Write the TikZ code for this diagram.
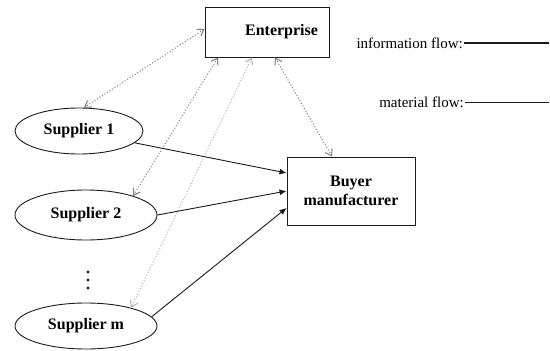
\documentclass[tikz,border=0pt]{standalone}
\usepackage{fontspec}
\setmainfont{Liberation Serif}
\usetikzlibrary{arrows.meta,positioning,shapes.geometric}
\definecolor{InfoGray}{HTML}{7A7A7A}
\definecolor{LineBlack}{HTML}{1A1A1A}
\tikzset{
  firmbox/.style={draw=LineBlack,line width=0.9pt,fill=white,
              font=\fontsize{16}{19}\selectfont\bfseries},
  supplier/.style={ellipse,draw=LineBlack,line width=0.9pt,inner sep=0pt,
              font=\fontsize{16}{19}\selectfont\bfseries},
  infoflow/.style={{Straight Barb[length=6pt,width=8pt]}-{Straight Barb[length=6pt,width=8pt]},
              dotted,line width=1pt,draw=InfoGray},
  matflow/.style={-{Latex[length=7pt,width=6pt]},line width=0.9pt,draw=LineBlack},
  legend/.style={font=\fontsize{15}{17}\selectfont,inner sep=1pt}
}
\begin{document}
\begin{tikzpicture}[x=1pt,y=-1pt]
  \useasboundingbox (0,0) rectangle (550,351);

  \node[firmbox,minimum width=124pt,minimum height=50pt,text width=102pt,
        align=right,inner xsep=10pt] (ent) at (267,32) {Enterprise};
  \node[firmbox,minimum width=128pt,minimum height=68pt,align=center] (buy) at (351,191)
        {Buyer\\manufacturer};

  \node[supplier,minimum width=128pt,minimum height=46pt] (sup1) at (79,131) {Supplier 1};
  \node[supplier,minimum width=142pt,minimum height=50pt] (sup2) at (86,215) {Supplier 2};
  \node[supplier,minimum width=142pt,minimum height=46pt] (supm) at (86,326) {Supplier m};
  % the suppliers in between
  \foreach \y in {272,280,288}
    \fill[LineBlack] (88,\y) circle (1.7pt);

  % legend
  \node[legend,anchor=east] (info) at (464,43) {information flow:};
  \coordinate (infoend) at (549,43);
  \node[legend,anchor=east] (mat) at (465,102) {material flow:};
  \coordinate (matend) at (549,102);
  \draw[line width=2.6pt,draw=LineBlack] (info.east) -- (infoend);
  \draw[line width=1pt,draw=LineBlack] (mat.east) -- (matend);

  % information between enterprise and the others
  \draw[infoflow] ([yshift=3pt]ent.west) -- (sup1.78);
  \draw[infoflow] ([xshift=-49pt]ent.south) -- (sup2.22);
  \draw[infoflow,draw=InfoGray!60] ([xshift=-15pt]ent.south) -- (supm.22);
  \draw[infoflow] ([xshift=8pt]ent.south) -- ([xshift=-19pt]buy.north);

  % material to the buyer
  \draw[matflow] (sup1.-12) -- ([yshift=18pt]buy.west);
  \draw[matflow] (sup2.east) -- (buy.west);
  \draw[matflow] (supm.8) -- ([yshift=-17pt]buy.west);
\end{tikzpicture}
\end{document}
